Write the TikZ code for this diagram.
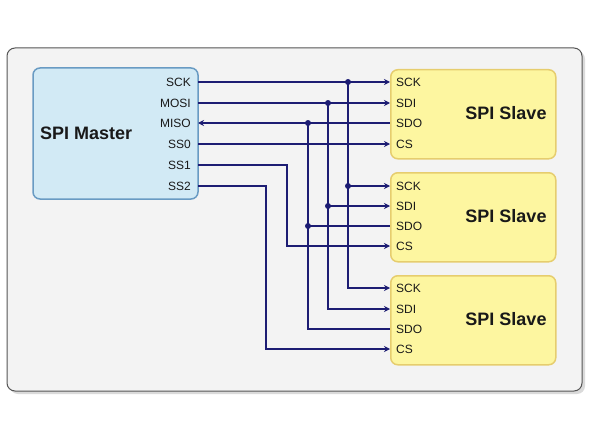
\documentclass[tikz,border=0pt]{standalone}
\usepackage{fontspec}
\setmainfont{Liberation Sans}
\usetikzlibrary{arrows.meta}
\definecolor{wire}{RGB}{28,28,115}
\definecolor{framefill}{RGB}{243,243,243}
\definecolor{frameline}{RGB}{85,85,85}
\definecolor{shadowc}{RGB}{218,218,218}
\definecolor{mfill}{RGB}{210,234,245}
\definecolor{mline}{RGB}{105,155,195}
\definecolor{sfill}{RGB}{253,246,160}
\definecolor{sline}{RGB}{230,205,110}
\definecolor{txt}{RGB}{25,25,25}
\tikzset{
  wireline/.style={draw=wire, line width=2pt},
  tip/.style={-{Stealth[length=6pt,width=6pt]}},
  backtip/.style={{Stealth[length=6pt,width=6pt]}-},
  jdot/.style={circle, fill=wire, inner sep=0pt, minimum size=6pt},
  masterbox/.style={draw=mline, fill=mfill, line width=1.5pt, rounded corners=7pt, minimum width=165pt, minimum height=131pt, inner sep=0pt},
  slavebox/.style={draw=sline, fill=sfill, line width=1.5pt, rounded corners=7pt, minimum width=165pt, minimum height=89pt, inner sep=0pt},
  pinlab/.style={font=\fontsize{12}{14}\selectfont, text=txt, inner sep=0pt},
  title/.style={font=\fontsize{18}{21}\selectfont\bfseries, text=txt, inner sep=0pt},
}
\begin{document}
\begin{tikzpicture}[x=1pt,y=-1pt]
\useasboundingbox (0,0) rectangle (592,444);
% frame with shadow
\fill[shadowc, rounded corners=8pt] (10,51) rectangle (585,394);
\draw[frameline, fill=framefill, line width=1pt, rounded corners=8pt] (7,48) rectangle (582,391);
% master
\node[masterbox] (M) at (115.5,133.5) {};
\node[title, anchor=west] (mtitle) at (40,133) {SPI Master};
\foreach \n/\t/\y in {mSCK/SCK/82, mMOSI/MOSI/103, mMISO/MISO/123, mSS0/SS0/144, mSS1/SS1/165, mSS2/SS2/186}{
  \node[pinlab, anchor=east] (\n lab) at (191,\y) {\t};
  \coordinate (\n) at (198,\y);
}
% slaves
\foreach \s/\top/\ya/\yb/\yc/\yd in {1/69/82/103/123/144, 2/172/186/206/226/246, 3/275/288/309/329/349}{
  \node[slavebox, anchor=north west] (S\s) at (390,\top) {};
  \node[title] (S\s title) at (506,\top+44.5) {SPI Slave};
  \node[pinlab, anchor=west] (S\s scklab) at (396,\ya) {SCK};
  \node[pinlab, anchor=west] (S\s sdilab) at (396,\yb) {SDI};
  \node[pinlab, anchor=west] (S\s sdolab) at (396,\yc) {SDO};
  \node[pinlab, anchor=west] (S\s cslab) at (396,\yd) {CS};
  \coordinate (S\s sck) at (390,\ya);
  \coordinate (S\s sdi) at (390,\yb);
  \coordinate (S\s sdo) at (390,\yc);
  \coordinate (S\s cs) at (390,\yd);
}
% junction coordinates
\coordinate (jck1) at (348,82);
\coordinate (jck2) at (348,186);
\coordinate (jdi1) at (328,103);
\coordinate (jdi2) at (328,206);
\coordinate (jdo1) at (308,123);
\coordinate (jdo2) at (308,226);
% SCK
\draw[wireline, tip] (mSCK) -- (S1sck);
\draw[wireline, tip] (jck1) |- (S3sck);
\draw[wireline, tip] (jck2) -- (S2sck);
% MOSI / SDI
\draw[wireline, tip] (mMOSI) -- (S1sdi);
\draw[wireline, tip] (jdi1) |- (S3sdi);
\draw[wireline, tip] (jdi2) -- (S2sdi);
% MISO / SDO
\draw[wireline, backtip] (mMISO) -- (S1sdo);
\draw[wireline] (jdo1) |- (S3sdo);
\draw[wireline] (jdo2) -- (S2sdo);
% chip selects
\draw[wireline, tip] (mSS0) -- (S1cs);
\draw[wireline, tip] (mSS1) -| (287,200) |- (S2cs);
\draw[wireline, tip] (mSS2) -| (266,300) |- (S3cs);
% dots
\foreach \j in {jck1,jck2,jdi1,jdi2,jdo1,jdo2}{
  \node[jdot] (\j dot) at (\j) {};
}
\end{tikzpicture}
\end{document}
